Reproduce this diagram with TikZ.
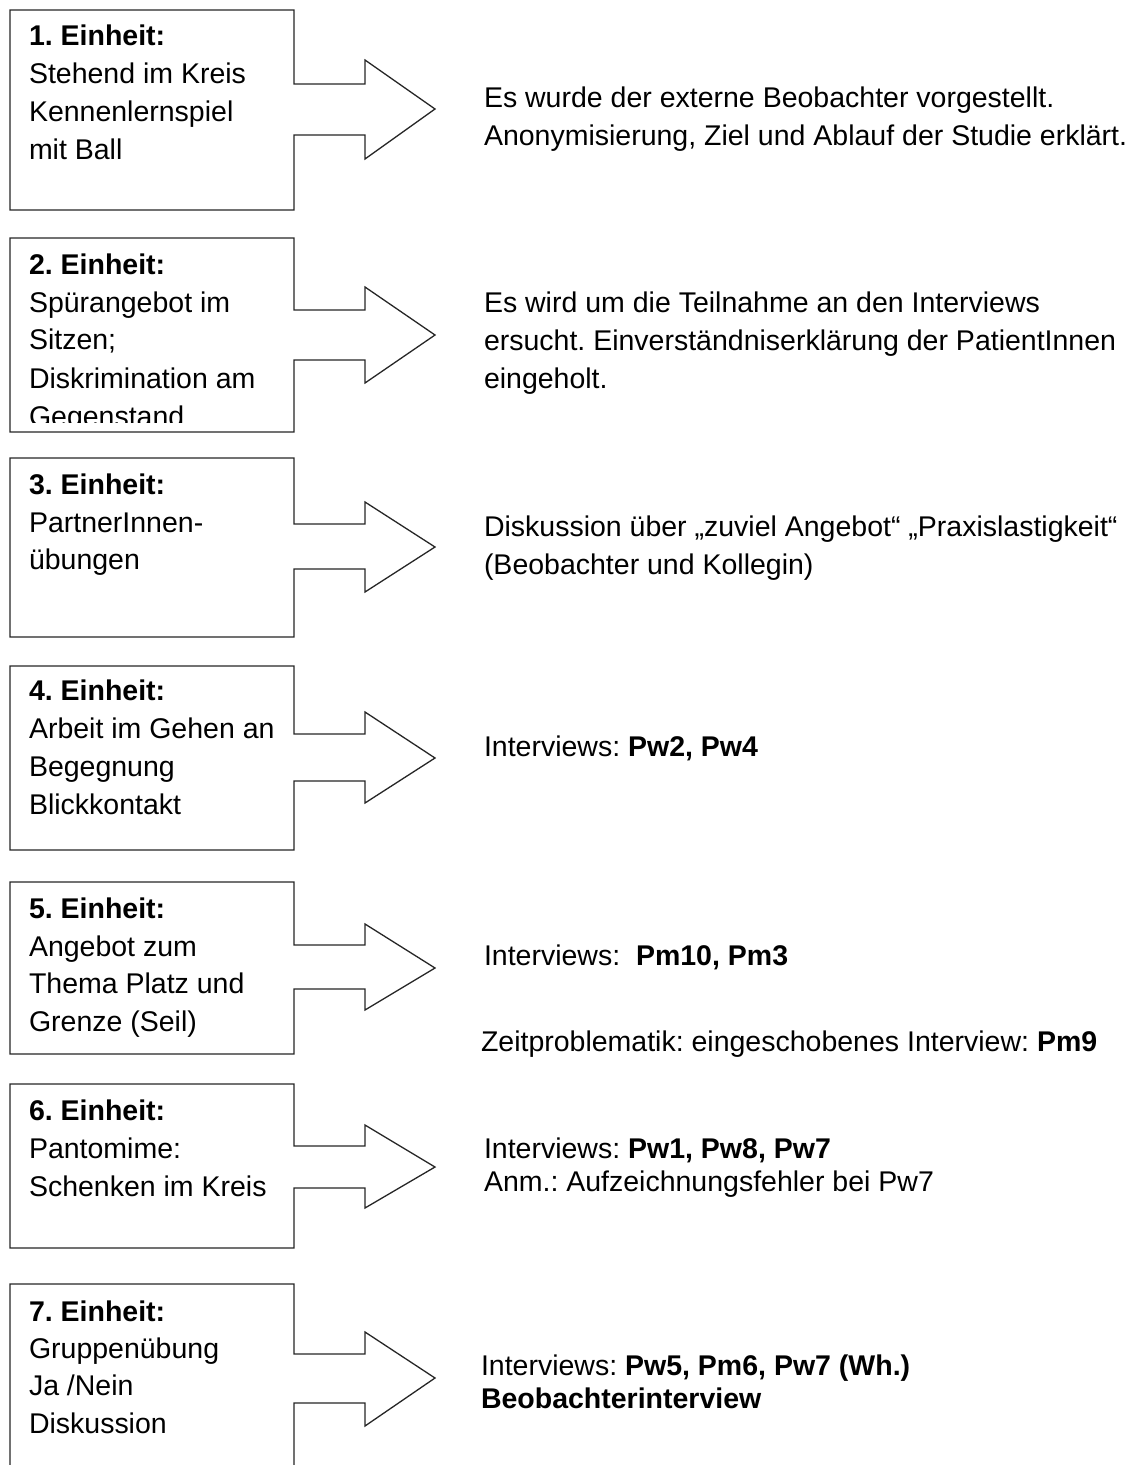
\documentclass[tikz,border=0pt]{standalone}
\usepackage{fontspec}
\setmainfont{Liberation Sans}
\begin{document}
\frenchspacing
\begin{tikzpicture}[x=1pt,y=-1pt,
  boxline/.style={draw=black!85,line width=1.3pt,line join=miter,fill=white},
  txt/.style={anchor=base west,inner sep=0pt,outer sep=0pt,font=\fontsize{28.5}{38}\selectfont,text=black}]
\useasboundingbox (0,0) rectangle (1134,1465);
% callout boxes: top, bottom, shaft top, shaft bottom, head top, head bottom, tip
\newcommand\cbox[8]{%
  \draw[boxline] (10,#1) -- (294,#1) -- (294,#3) -- (365,#3) -- (365,#5) -- (435,#7) coordinate (#8)
    -- (365,#6) -- (365,#4) -- (294,#4) -- (294,#2) -- (10,#2) -- cycle;}
\cbox{10}{210}{84}{135}{60}{159}{109}{tip1}
\cbox{238}{432}{310}{360}{287}{383}{335}{tip2}
\cbox{458}{637}{524}{569}{502}{592}{547}{tip3}
\cbox{666}{850}{734}{781}{712}{803}{758}{tip4}
\cbox{882}{1054}{945}{989}{924}{1010}{968}{tip5}
\cbox{1084}{1248}{1146}{1188}{1125}{1208}{1167}{tip6}
\cbox{1284}{1480}{1354}{1403}{1332}{1426}{1378}{tip7}
% left texts
\node[txt] (a1) at (29,45) {\textbf{1. Einheit:}};
\node[txt] (a2) at (29,83) {Stehend im Kreis};
\node[txt] (a3) at (29,121) {Kennenlernspiel};
\node[txt] (a4) at (29,159) {mit Ball};
\node[txt] (b1) at (29,274) {\textbf{2. Einheit:}};
\node[txt] (b2) at (29,312) {Spürangebot im};
\node[txt] (b3) at (29,349) {Sitzen;};
\node[txt] (b4) at (29,388) {Diskrimination am};
\begin{scope}
\clip (12,240) rectangle (292,422);
\node[txt] (b5) at (29,426) {Gegenstand};
\end{scope}
\node[txt] (c1) at (29,494) {\textbf{3. Einheit:}};
\node[txt] (c2) at (29,532) {PartnerInnen-};
\node[txt] (c3) at (29,569) {übungen};
\node[txt] (d1) at (29,700) {\textbf{4. Einheit:}};
\node[txt] (d2) at (29,738) {Arbeit im Gehen an};
\node[txt] (d3) at (29,776) {Begegnung};
\node[txt] (d4) at (29,814) {Blickkontakt};
\node[txt] (e1) at (29,918) {\textbf{5. Einheit:}};
\node[txt] (e2) at (29,956) {Angebot zum};
\node[txt] (e3) at (29,993) {Thema Platz und};
\node[txt] (e4) at (29,1031) {Grenze (Seil)};
\node[txt] (f1) at (29,1120) {\textbf{6. Einheit:}};
\node[txt] (f2) at (29,1158) {Pantomime:};
\node[txt] (f3) at (29,1196) {Schenken im Kreis};
\node[txt] (g1) at (29,1321) {\textbf{7. Einheit:}};
\node[txt] (g2) at (29,1358) {Gruppenübung};
\node[txt] (g3) at (29,1395) {Ja /Nein};
\node[txt] (g4) at (29,1433) {Diskussion};
% right texts
\node[txt] (r1a) at (484,107) {Es wurde der externe Beobachter vorgestellt.};
\node[txt] (r1b) at (484,145) {Anonymisierung, Ziel und Ablauf der Studie erklärt.};
\node[txt] (r2a) at (484,312) {Es wird um die Teilnahme an den Interviews};
\node[txt] (r2b) at (484,350) {ersucht. Einverständniserklärung der PatientInnen};
\node[txt] (r2c) at (484,388) {eingeholt.};
\node[txt] (r3a) at (484,536) {Diskussion über „zuviel Angebot“ „Praxislastigkeit“};
\node[txt] (r3b) at (484,574) {(Beobachter und Kollegin)};
\node[txt] (r4a) at (484,756) {Interviews: \textbf{Pw2, Pw4}};
\node[txt] (r5a) at (484,965) {Interviews:\ \ \textbf{Pm10, Pm3}};
\node[txt] (r5b) at (481,1051) {Zeitproblematik: eingeschobenes Interview: \textbf{Pm9}};
\node[txt] (r6a) at (484,1158) {Interviews: \textbf{Pw1, Pw8, Pw7}};
\node[txt] (r6b) at (484,1191) {Anm.: Aufzeichnungsfehler bei Pw7};
\node[txt] (r7a) at (481,1375) {Interviews: \textbf{Pw5, Pm6, Pw7 (Wh.)}};
\node[txt] (r7b) at (481,1408) {\textbf{Beobachterinterview}};
\end{tikzpicture}
\end{document}
